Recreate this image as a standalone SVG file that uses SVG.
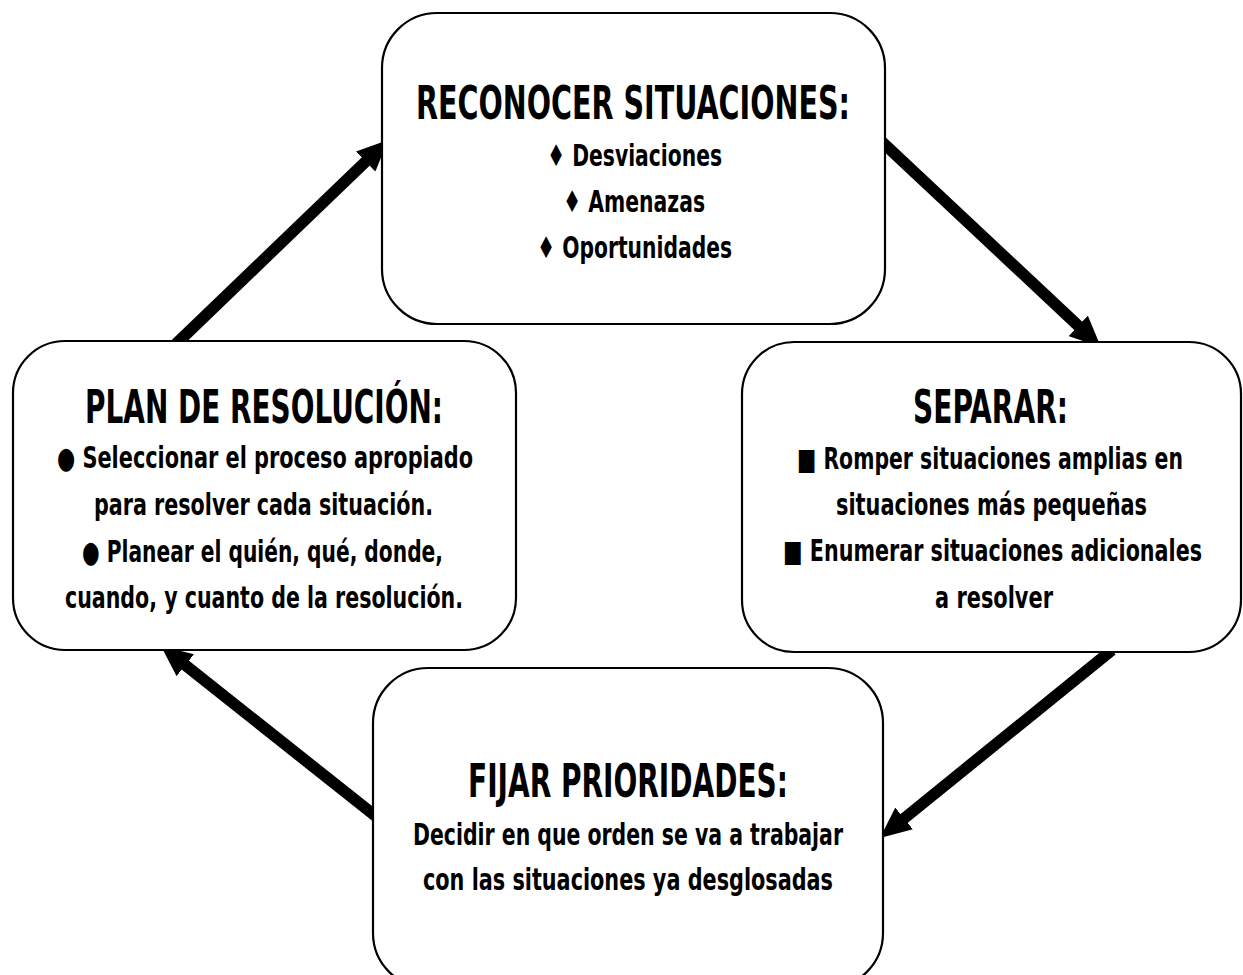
<svg xmlns="http://www.w3.org/2000/svg" width="1243" height="975" viewBox="0 0 1243 975">
<style>
.box{fill:#fff;stroke:#000;stroke-width:2.2}
.t{font-family:'DejaVu Sans Condensed','DejaVu Sans',sans-serif;font-stretch:condensed;font-weight:bold;fill:#000;text-anchor:middle}
.h{font-size:46px}
.b{font-size:30px}
.arr{stroke:#000;stroke-width:11.5;fill:none;marker-end:url(#ah)}
</style>
<defs>
<marker id="ah" viewBox="0 -14 31 28" markerWidth="31" markerHeight="28" refX="1" refY="0" markerUnits="userSpaceOnUse" orient="auto">
<path d="M0,-14 L31,0 L0,14 z" fill="#000"/>
</marker>
</defs>
<rect width="1243" height="975" fill="#fff"/>
<g id="connectors">
<line class="arr" x1="880" y1="140" x2="1079" y2="326.5"/>
<line class="arr" x1="176" y1="344" x2="366.4" y2="160.8"/>
<line class="arr" x1="378" y1="818" x2="184.5" y2="664.6"/>
<line class="arr" x1="1112" y1="650" x2="903.3" y2="819.1"/>
</g>
<g id="reconocer">
<rect class="box" x="382" y="13" width="503" height="311" rx="55" ry="55"/>
<text class="t h" x="633" y="119" textLength="434" lengthAdjust="spacingAndGlyphs">RECONOCER SITUACIONES:</text>
<text class="t b" x="634.5" y="166" textLength="175" lengthAdjust="spacingAndGlyphs">♦ Desviaciones</text>
<text class="t b" x="634" y="212" textLength="142" lengthAdjust="spacingAndGlyphs">♦ Amenazas</text>
<text class="t b" x="634.5" y="258" textLength="195" lengthAdjust="spacingAndGlyphs">♦ Oportunidades</text>
</g>
<g id="separar">
<rect class="box" x="742" y="342" width="499" height="310" rx="52" ry="52"/>
<text class="t h" x="990.5" y="423" textLength="155" lengthAdjust="spacingAndGlyphs">SEPARAR:</text>
<text class="t b" transform="translate(990,469) scale(0.8,1)" x="0" y="0" textLength="482.5" lengthAdjust="spacingAndGlyphs">■ Romper situaciones amplias en</text>
<text class="t b" x="991.5" y="515" textLength="311" lengthAdjust="spacingAndGlyphs">situaciones más pequeñas</text>
<text class="t b" transform="translate(992.5,561) scale(0.8,1)" x="0" y="0" textLength="523.75" lengthAdjust="spacingAndGlyphs">■ Enumerar situaciones adicionales</text>
<text class="t b" x="994" y="608" textLength="118" lengthAdjust="spacingAndGlyphs">a resolver</text>
</g>
<g id="plan">
<rect class="box" x="13" y="341" width="503" height="309" rx="52" ry="52"/>
<text class="t h" x="264" y="423" textLength="358" lengthAdjust="spacingAndGlyphs">PLAN DE RESOLUCIÓN:</text>
<text class="t b" x="265" y="468" textLength="416" lengthAdjust="spacingAndGlyphs">● Seleccionar el proceso apropiado</text>
<text class="t b" x="263.5" y="515" textLength="339" lengthAdjust="spacingAndGlyphs">para resolver cada situación.</text>
<text class="t b" x="262.5" y="562" textLength="361" lengthAdjust="spacingAndGlyphs">● Planear el quién, qué, donde,</text>
<text class="t b" x="264" y="608" textLength="398" lengthAdjust="spacingAndGlyphs">cuando, y cuanto de la resolución.</text>
</g>
<g id="fijar">
<rect class="box" x="373" y="668" width="510" height="320" rx="55" ry="55"/>
<text class="t h" x="628" y="797" textLength="320" lengthAdjust="spacingAndGlyphs">FIJAR PRIORIDADES:</text>
<text class="t b" x="628" y="845" textLength="430" lengthAdjust="spacingAndGlyphs">Decidir en que orden se va a trabajar</text>
<text class="t b" x="628" y="890" textLength="410" lengthAdjust="spacingAndGlyphs">con las situaciones ya desglosadas</text>
</g>
</svg>
